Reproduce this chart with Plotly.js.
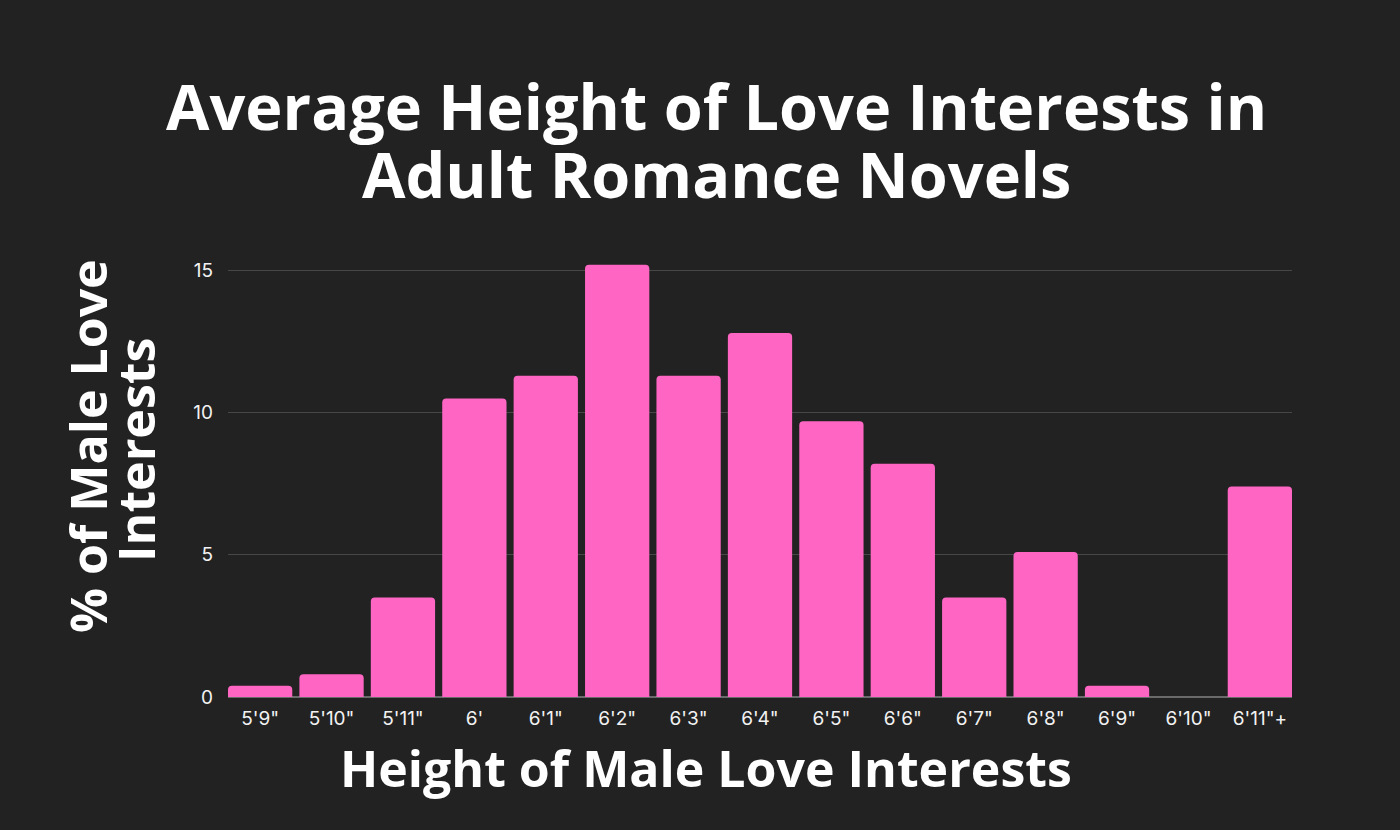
<!DOCTYPE html>
<html>
<head>
<meta charset="utf-8">
<script src="https://cdn.plot.ly/plotly-3.0.1.min.js"></script>
<style>html,body{margin:0;padding:0;background:#222222;}#chart{width:1400px;height:830px;}</style>
</head>
<body>
<div id="chart"></div>
<script>
const heights = ["5'9\"", "5'10\"", "5'11\"", "6'", "6'1\"", "6'2\"", "6'3\"", "6'4\"", "6'5\"", "6'6\"", "6'7\"", "6'8\"", "6'9\"", "6'10\"", "6'11\"+"];
const percentMaleLoveInterests = [0.4, 0.8, 3.5, 10.5, 11.3, 15.2, 11.3, 12.8, 9.7, 8.2, 3.5, 5.1, 0.4, 0, 7.4];
const yTicks = [0, 5, 10, 15];
const titleLines = ['Average Height of Love Interests in', 'Adult Romance Novels'];
const xTitle = 'Height of Male Love Interests';
const yTitleLines = ['% of Male Love', 'Interests'];

const trace = {
  type: 'bar',
  x: heights,
  y: percentMaleLoveInterests,
  marker: {color: '#ff66c4', cornerradius: 4},
  hoverinfo: 'x+y'
};

const W = 1400, H = 830;
const L = 228, R = 108, T = 262, B = 133;
const pw = W - L - R, ph = H - T - B;
const px = x => (x - L) / pw;
const py = y => (H - B - y) / ph;
const bold = size => ({family: 'Open Sans', size: size, color: '#ffffff', weight: 700});

const layout = {
  width: W, height: H,
  paper_bgcolor: '#222222', plot_bgcolor: '#222222',
  margin: {l: L, r: R, t: T, b: B},
  showlegend: false,
  bargap: 0.1,
  xaxis: {
    type: 'category',
    range: [-0.45, 14.45],
    tickfont: {family: 'Inter', size: 19, color: '#f2f2f2'},
    showgrid: false, showline: false, ticks: '',
    zeroline: false, ticklabelstandoff: 8
  },
  yaxis: {
    range: [0, 15.3],
    tickvals: yTicks,
    tickfont: {family: 'Inter', size: 19, color: '#f2f2f2'},
    gridcolor: '#474747', gridwidth: 1,
    zeroline: true, zerolinecolor: '#6a6a6a', zerolinewidth: 1.5,
    ticks: '', ticklabelstandoff: 14
  },
  annotations: [
    {text: titleLines[0], xref: 'paper', yref: 'paper', x: px(716), y: py(106),
     xanchor: 'center', yanchor: 'middle', showarrow: false, font: bold(63)},
    {text: titleLines[1], xref: 'paper', yref: 'paper', x: px(716), y: py(173),
     xanchor: 'center', yanchor: 'middle', showarrow: false, font: bold(63)},
    {text: xTitle, xref: 'paper', yref: 'paper', x: px(706), y: py(768),
     xanchor: 'center', yanchor: 'middle', showarrow: false, font: bold(50)},
    {text: yTitleLines[0], xref: 'paper', yref: 'paper', x: px(88), y: py(446),
     xanchor: 'center', yanchor: 'middle', showarrow: false, textangle: -90, font: bold(50)},
    {text: yTitleLines[1], xref: 'paper', yref: 'paper', x: px(136), y: py(450),
     xanchor: 'center', yanchor: 'middle', showarrow: false, textangle: -90, font: bold(50)}
  ]
};

Plotly.newPlot('chart', [trace], layout, {displayModeBar: false, staticPlot: true});
</script>
</body>
</html>
